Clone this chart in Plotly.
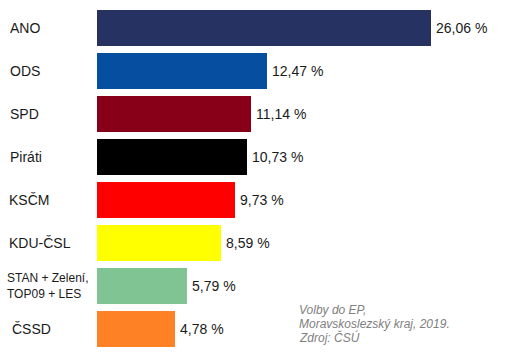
import plotly.graph_objects as go

# ---- data ----
parties = ["ANO", "ODS", "SPD", "Piráti", "KSČM", "KDU-ČSL", "STAN + Zelení,<br>TOP09 + LES", "ČSSD"]
shares = [26.06, 12.47, 11.14, 10.73, 9.73, 8.59, 5.79, 4.78]
colors = ["#263262", "#054ea0", "#880018", "#000000", "#ff0000", "#ffff00", "#80c494", "#ff8126"]
source_lines = ["Volby do EP,", "Moravskoslezský kraj, 2019.", "Zdroj: ČSÚ"]

# ---- style / layout constants ----
W, H = 519, 354
ML = 97
PX_PER_UNIT = 12.03
BASE_OFFSET = 1.70          # bars start slightly left of zero in the reference
PITCH = 43.0
FIRST_CENTER = 28.0
label_left_px = [8, 8, 8, 8, 7, 7, 5, 10]
label_sizes = [14, 14, 14, 14, 14, 14, 12, 14]

plot_w = W - ML
x0 = -BASE_OFFSET
x1 = x0 + plot_w / PX_PER_UNIT
y_top = -FIRST_CENTER / PITCH
y_bot = y_top + H / PITCH

ypos = list(range(len(parties)))

fig = go.Figure()
fig.add_trace(go.Bar(
    y=ypos,
    x=[v + BASE_OFFSET for v in shares],
    base=[-BASE_OFFSET] * len(shares),
    orientation="h",
    marker=dict(color=colors, line=dict(width=0)),
    width=36 / PITCH,
    hoverinfo="skip",
))

annotations = []
for i, (p, v) in enumerate(zip(parties, shares)):
    annotations.append(dict(
        x=v, y=i, xref="x", yref="y", xanchor="left", yanchor="middle",
        xshift=3, showarrow=False,
        text=f"{v:.2f}".replace(".", ",") + " %",
        font=dict(family="Liberation Sans, Arial", size=14, color="#1a1a1a"),
    ))
    annotations.append(dict(
        x=(label_left_px[i] - ML) / plot_w, y=i, xref="paper", yref="y",
        xanchor="left", yanchor="middle", align="left", showarrow=False,
        text=p,
        font=dict(family="Liberation Sans, Arial", size=label_sizes[i], color="#1a1a1a"),
    ))

src_y = [310, 323.5, 337]
for line, yy in zip(source_lines, src_y):
    annotations.append(dict(
        x=(298 - ML) / plot_w, y=1 - yy / H, xref="paper", yref="paper",
        xanchor="left", yanchor="middle", showarrow=False, borderpad=0,
        text=f"<i>{line}</i>",
        font=dict(family="Liberation Sans, Arial", size=12, color="#808080"),
    ))

fig.update_layout(
    width=W, height=H,
    margin=dict(l=ML, r=0, t=0, b=0),
    paper_bgcolor="white", plot_bgcolor="white",
    showlegend=False,
    bargap=0,
    xaxis=dict(range=[x0, x1], visible=False, fixedrange=True),
    yaxis=dict(range=[y_bot, y_top], visible=False, fixedrange=True),
    annotations=annotations,
)

fig.write_html("out.html")
